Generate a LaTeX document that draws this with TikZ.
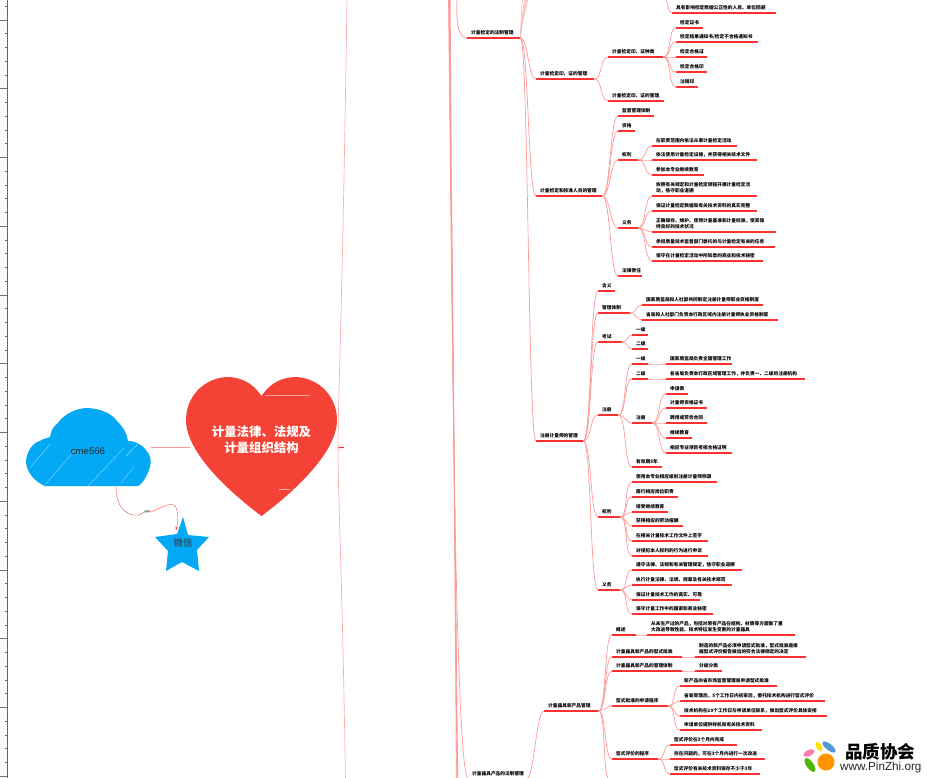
\documentclass[tikz,border=0pt]{standalone}
\usepackage{fontspec}
\setmainfont{Liberation Sans}
\newfontfamily\cjk{Noto Sans CJK SC}
\usepackage{tikz}
\usetikzlibrary{positioning,calc,arrows.meta}
\usepackage{xcolor}

\definecolor{rulered}{HTML}{FF3030}
\definecolor{linkred}{HTML}{FF9898}
\definecolor{heartred}{HTML}{F44336}
\definecolor{cloudblue}{HTML}{03A9F4}

\tikzset{
    topic/.style={anchor=south west, inner xsep=4pt, inner ysep=2.6pt, align=left,
        font=\cjk\bfseries\fontsize{4.7}{6.4}\selectfont},
    rule/.style={rulered, line width=1.1pt},
    link/.style={linkred, line width=0.7pt, out=0, in=180, max distance=8pt}
}

% one parent and its children: name/end x/y/text
\newcommand{\branch}[3]{%
    \foreach \nm/\xb/\yy/\txt in {#3} {
        \pgfmathsetmacro{\tw}{\xb-#2-8}
        \node[topic, text width=\tw pt] (\nm) at (#2,\yy) {\txt};
        \draw[rule] (\nm.south west) -- (\nm.south east);
        \draw[link] (#1.south east) to (\nm.south west);
    }%
}

\begin{document}
\begin{tikzpicture}[x=1pt, y=-1pt]
    \useasboundingbox (0,0) rectangle (927,778);
    \clip (0,0) rectangle (927,778);

    % Ruler on the left edge
    \fill[black!2] (0,0) rectangle (7.3,778);
    \draw[black!60, line width=0.8pt] (7.3,0) -- (7.3,778);
    \foreach \k in {0,...,56} {
        \draw[black!60, line width=0.6pt] (5,{6.25+13.75*\k}) -- (7.3,{6.25+13.75*\k});
    }
    \foreach \k in {0,...,11} {
        \draw[black!55, line width=0.7pt] (0,{20+68.75*\k}) -- (7.3,{20+68.75*\k});
    }

    % Trunk lines running off the page
    \coordinate (trunktop) at (347,-2);
    \coordinate (trunkbot) at (345.5,780);
    \coordinate (bundletop) at (449.5,-2);
    \coordinate (bundlebot) at (457,780);
    \node[circle, draw=linkred!60, line width=0.4pt, inner sep=0pt, minimum size=5pt] (fold) at (341,447) {};
    \draw[rulered, line width=0.6pt] (fold.west) -- (fold.east);
    \draw[linkred!80, line width=0.7pt] (fold.west) .. controls (337,425) and (342,340) .. (trunktop);
    \draw[linkred!80, line width=0.7pt] (fold.west) .. controls (337,470) and (342,560) .. (trunkbot);
    \foreach \dx in {-0.7,0,0.7} {
        \draw[linkred, line width=0.8pt] ($(bundletop)+(\dx,0)$) .. controls (451,200) and (455,500) .. ($(bundlebot)+(\dx,0)$);
    }

    % Heart
    \fill[heartred] (261.5,396) .. controls (252,382) and (240,377) .. (226,377)
        .. controls (202,379) and (186,398) .. (186,420)
        .. controls (186,455) and (236,497) .. (261.5,516)
        .. controls (287,497) and (337,455) .. (337,420)
        .. controls (337,398) and (321,379) .. (297,377)
        .. controls (283,377) and (271,382) .. (261.5,396) -- cycle;
    \draw[white, opacity=0.5, line width=0.5pt] (265,395) -- (310,395);
    \draw[white, opacity=0.6, line width=0.5pt] (279,489) -- (290,489);
    \node[white, align=center, font=\cjk\bfseries\fontsize{12.4}{16.5}\selectfont] (root) at (261.5,440) {计量法律、法规及\\计量组织结构};
    \draw[linkred!70, line width=0.6pt] (337,447) -- (fold.west);

    % Cloud
    \fill[cloudblue] (45,486) .. controls (35,482) and (26,472) .. (26,461)
        .. controls (27,450) and (34,442) .. (40,441)
        .. controls (44,438) and (48,438) .. (50,437)
        .. controls (51,430) and (54,426) .. (57,424)
        .. controls (64,414) and (76,408) .. (88,408)
        .. controls (102,409) and (112,414) .. (117,421)
        .. controls (124,428) and (127,434) .. (128,441)
        .. controls (136,441) and (142,445) .. (146,450)
        .. controls (151,455) and (152,462) .. (149,470)
        .. controls (146,478) and (142,484) .. (138,486) -- cycle;
    \foreach \xa/\ya/\xb/\yb in {30/468/50/444, 46/484/75/450, 88/486/124/448, 121/483/134/467, 126/456/138/444} {
        \draw[white, opacity=0.55, line width=0.4pt] (\xa,\ya) -- (\xb,\yb);
    }
    \node[font=\fontsize{9.6}{11}\selectfont, text=black!85] (cloudtext) at (88,451) {cme566};
    \draw[linkred, line width=0.9pt] (151,447) -- (190,447);

    % Star
    \fill[cloudblue] (183,517) -- (188,535) -- (209,537) -- (197,550) -- (199,571)
        -- (182,562) -- (166,571) -- (168,551) -- (155,537) -- (177,534) -- cycle;
    \node[font=\cjk\fontsize{9.5}{11}\selectfont, text=black!80] (startext) at (183,543) {微信};

    % Dashed relation from cloud to star
    \coordinate (cloudfoot) at (116,487);
    \coordinate (starhead) at (176,530);
    \node[fill=black!10, inner sep=0pt, font=\cjk\fontsize{2.6}{3}\selectfont] (relabel) at (147,512) {总结};
    \draw[rulered, dashed, dash pattern=on 1.5pt off 0.7pt, line width=0.5pt] (cloudfoot)
        .. controls (116,505) and (125,517) .. (139,515) -- (relabel.west);
    \draw[rulered, dashed, dash pattern=on 1.5pt off 0.7pt, line width=0.5pt, -{Stealth[length=3pt,width=2.5pt]}] (relabel.east)
        .. controls (158,510) and (170,501) .. (175,506) .. controls (179,512) and (178,522) .. (starhead);

    % First part of the map
    \node[topic, text width=45pt] (lawcheck) at (467,38) {计量检定的法制管理};
    \draw[rule] (lawcheck.south west) -- (lawcheck.south east);
    \draw[link] (bundletop) ++(8,0) coordinate (lawcheckup) to[out=85, in=180, max distance=30pt] (lawcheck.south west);
    \foreach \nm/\xt in {fana/523, fanb/525, fanc/526, fand/527, fane/528} {
        \coordinate (\nm) at (\xt,-2);
        \draw[linkred!80, line width=0.5pt] (lawcheck.south east) .. controls (521,25) and (\xt-2,10) .. (\nm);
    }
    \coordinate (offtop) at (666,-2);
    \node[topic, text width=96pt] (avoid) at (672,13) {具有影响检定数据公正性的人员、单位回避};
    \draw[rule] (avoid.south west) -- (avoid.south east);
    \draw[link] (offtop) .. controls (668,8) and (669,13) .. (avoid.south west);

    \branch{lawcheck}{536}{
        mark/594/79/{计量检定印、证的管理},
        staff/602/196/{计量检定和校准人员的管理},
        engineer/583/441/{注册计量师的管理}}
    \branch{mark}{608}{
        markkind/663/57/{计量检定印、证种类},
        markrule/664/101/{计量检定印、证的管理}}
    \branch{markkind}{676}{
        certa/703/28/{检定证书},
        certb/758/42/{检定结果通知书/检定不合格通知书},
        certc/707/57/{检定合格证},
        certd/707/72/{检定合格印},
        certe/698/87/{注销印}}
    \branch{staff}{618}{
        staffsys/654/116/{监督管理体制},
        staffqual/635/131/{资格},
        staffright/638/160/{权利},
        staffduty/638/228/{义务},
        staffliab/642/276/{法律责任}}
    \branch{staffright}{652}{
        srighta/737/146/{在职责范围内依法从事计量检定活动},
        srightb/757/160/{依法使用计量检定设施，并获得相关技术文件},
        srightc/704/175/{参加本专业继续教育}}
    \branch{staffduty}{652}{
        sdutya/757/196/{依照有关规定和计量检定规程开展计量检定活\\动，恪守职业道德},
        sdutyb/757/211/{保证计量检定数据和有关技术资料的真实完整},
        sdutyc/776/232/{正确保存、维护、使用计量基准和计量标准，使其保\\持良好的技术状况},
        sdutyd/775/247/{承担质量技术监督部门委托的与计量检定有关的任务},
        sdutye/763/261/{保守在计量检定活动中所知悉的商业和技术秘密}}

    % Registered metrologist
    \branch{engineer}{598}{
        enmean/615/291/{含义},
        ensys/630/313/{管理体制},
        enexam/622/342/{考试},
        enreg/618/415/{注册},
        enright/620/517/{权利},
        enduty/620/590/{义务}}
    \branch{ensys}{642}{
        ensysa/763/305/{国家质监局和人社部共同制定注册计量师职业资格制度},
        ensysb/778/320/{省局和人社部门负责本行政区域内注册计量师执业资格制度}}
    \branch{enexam}{632}{
        examone/648/335/{一级},
        examtwo/648/349/{二级}}
    \branch{enreg}{632}{
        regone/648/364/{一级},
        regtwo/648/379/{二级},
        regdo/652/423/{注册},
        regterm/662/467/{有效期5年}}
    \branch{regone}{666}{
        regonea/732/364/{国家质监局负责全国管理工作}}
    \branch{regtwo}{666}{
        regtwoa/805/379/{各省局负责本行政区域管理工作，并负责一、二级的注册机构}}
    \branch{regdo}{666}{
        regdoa/688/394/{申请表},
        regdob/707/408/{计量师资格证书},
        regdoc/707/423/{聘用或劳务合同},
        regdod/692/438/{继续教育},
        regdoe/732/453/{相应专业项目考核合格证明}}
    \branch{enright}{632}{
        erighta/717/482/{使用本专业相应级别注册计量师称谓},
        erightb/678/497/{履行相应岗位职责},
        erightc/668/512/{接受继续教育},
        erightd/683/526/{获得相应的劳动报酬},
        erighte/708/541/{在相关计量技术工作文件上签字},
        erightf/708/556/{对侵犯本人权利的行为进行申诉}}
    \branch{enduty}{632}{
        edutya/742/570/{遵守法律、法规和有关管理规定，恪守职业道德},
        edutyb/732/585/{执行计量法律、法规、规章及有关技术规范},
        edutyc/700/600/{保证计量技术工作的真实、可靠},
        edutyd/713/614/{保守计量工作中的国家和商业秘密}}

    % Instruments
    \node[topic, text width=50pt] (lawprod) at (468,779) {计量器具产品的法制管理};
    \draw[rule] (lawprod.south west) -- (lawprod.south east);
    \draw[link] (bundletop) ++(-1,0) coordinate (lawprodup) .. controls (452,300) and (455,770) .. (lawprod.south west);
    \branch{lawprod}{544}{
        newprod/598/711/{计量器具新产品管理}}
    \branch{newprod}{612}{
        general/636/635/{概述},
        approve/682/657/{计量器具新产品的型式批准},
        prodsys/682/671/{计量器具新产品的管理体制},
        apply/668/706/{型式批准的申请程序},
        assess/658/759/{型式评价的程序}}
    \coordinate (offbot) at (610,781);
    \draw[link] (newprod.south east) to (offbot);
    \branch{general}{647}{
        generala/795/635/{从未生产过的产品，包括对原有产品在结构、材质等方面做了重\\大改进导致性能、技术特征发生变更的计量器具}}
    \branch{approve}{695}{
        approvea/806/657/{制造的新产品必须申请型式批准，型式批准是根\\据型式评价报告做出的符合法律规定的决定}}
    \branch{prodsys}{695}{
        prodsysa/722/671/{分级分类}}
    \branch{apply}{680}{
        applya/777/686/{新产品向省市场监督管理局申请型式批准},
        applyb/825/701/{省局受理后，5个工作日内初审后，委托技术机构进行型式评价},
        applyc/827/716/{技术机构在10个工作日与申请单位联系，做出型式评价具体安排},
        applyd/762/730/{申请单位提供样机和有关技术资料}}
    \branch{assess}{670}{
        assessa/737/745/{型式评价在3个月内完成},
        assessb/765/759/{存在问题的，可在3个月内进行一次改进},
        assessc/760/774/{型式评价有关技术资料保存不少于3年}}

    % Logo
    \fill[white] (803,735) rectangle (927,778);
    \fill[yellow!85!orange] (819,746.5) ellipse [x radius=5, y radius=2.8, rotate=-60];
    \fill[cyan!60!blue!70] (829,747) ellipse [x radius=8, y radius=3.2, rotate=-38];
    \fill[magenta!35!pink] (809,753) ellipse [x radius=6, y radius=3, rotate=25];
    \fill[green!60!black!70!yellow] (810,765) ellipse [x radius=8, y radius=3.5, rotate=-55];
    \fill[orange!85!yellow] (826,762) circle [radius=8.5];
    \node[anchor=west, inner sep=0pt, font=\cjk\bfseries\fontsize{17.5}{18}\selectfont] (logocn) at (845,752) {品质协会};
    \node[anchor=west, inner sep=0pt, text=black!85, font=\fontsize{11.7}{13}\selectfont] (logourl) at (840,767) {www.PinZhi.org};
\end{tikzpicture}
\end{document}
